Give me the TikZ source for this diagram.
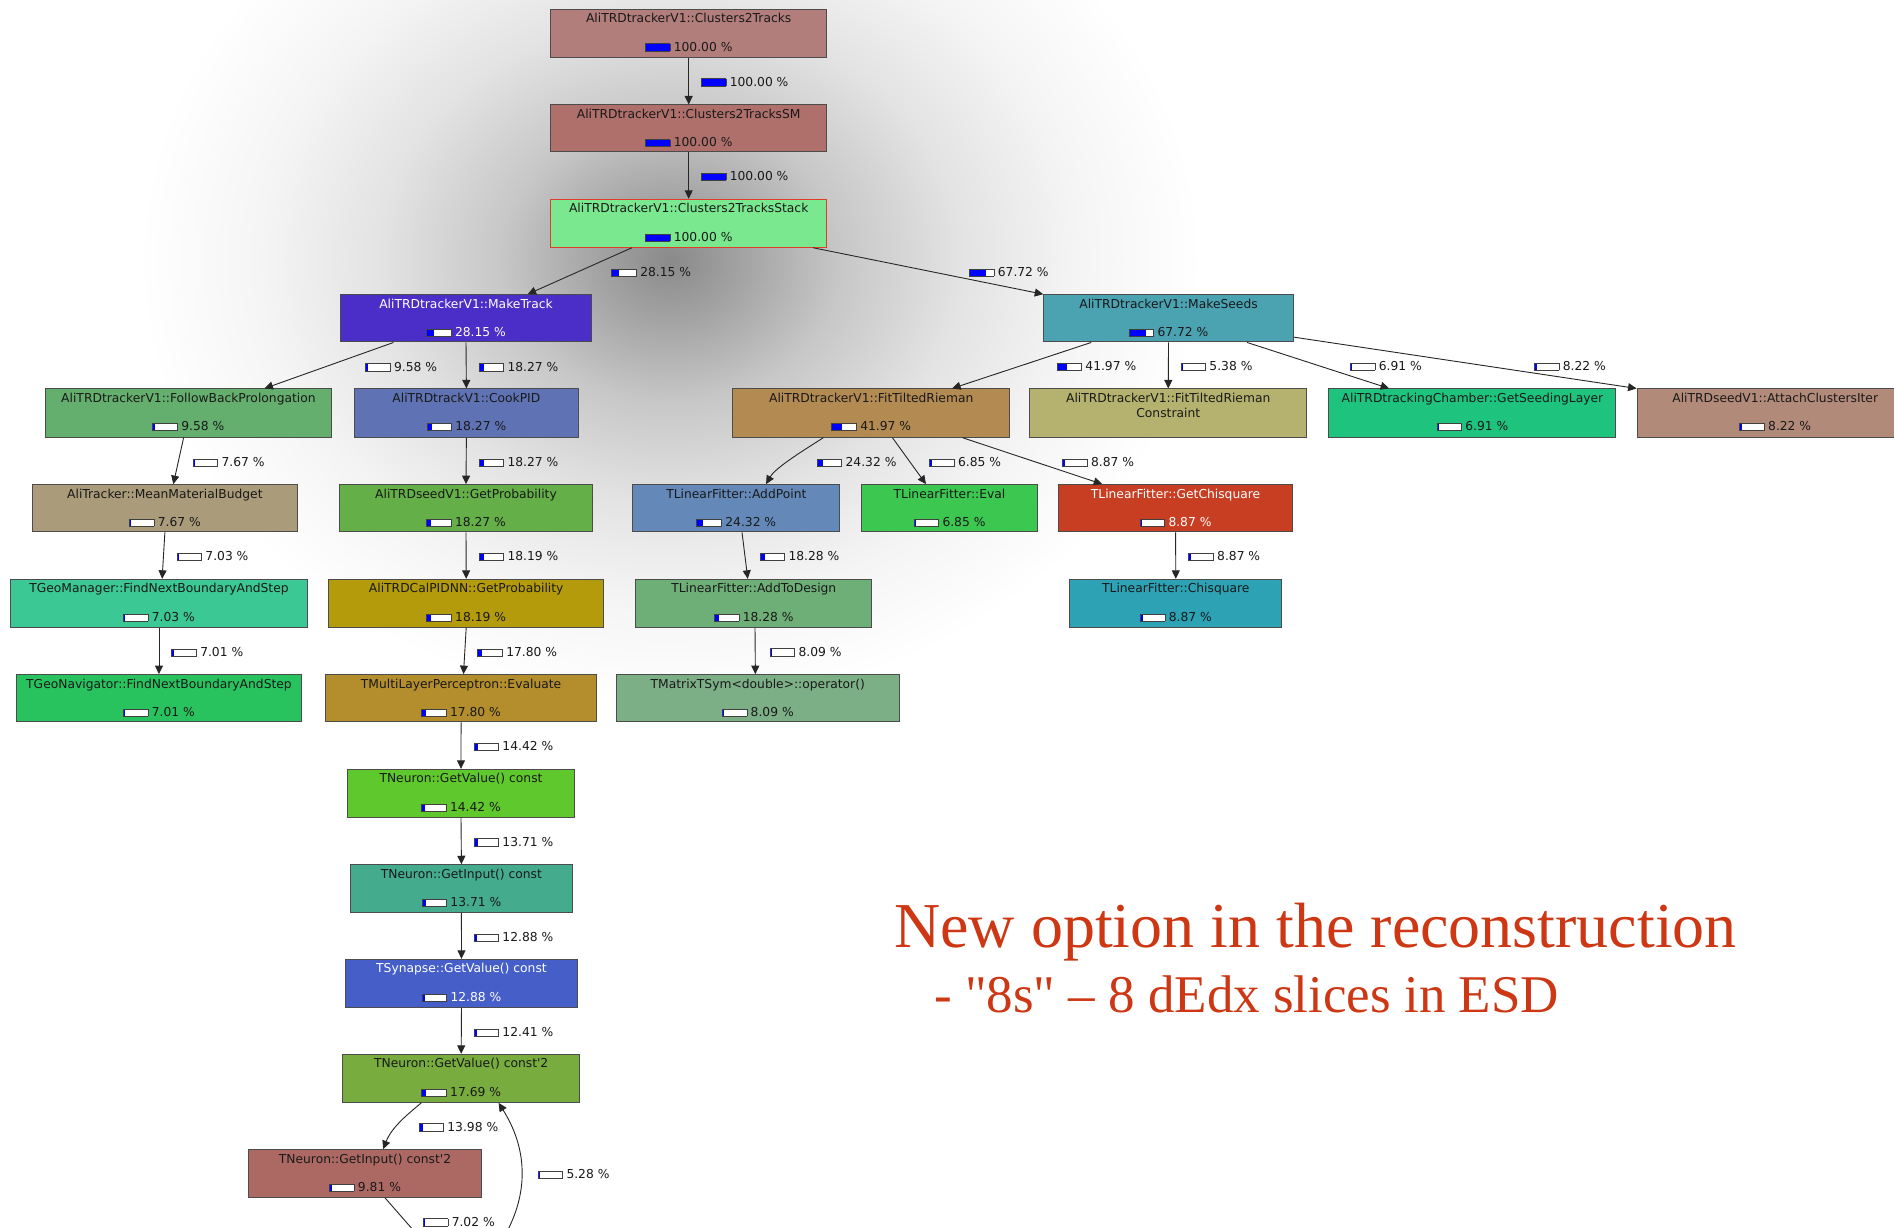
\documentclass[tikz,border=0pt]{standalone}
\usepackage{fontspec}
\setmainfont{DejaVu Sans}[Ligatures=TeXOff]
\newfontfamily\timesfont{Liberation Serif}
\usetikzlibrary{arrows.meta,calc}
\newdimen\barunit \barunit=0.24pt
\newcommand\pbar[1]{\raisebox{0.5pt}{\setlength\fboxsep{0pt}\setlength\fboxrule{0.7pt}\fcolorbox{black!75}{white}{\makebox[24pt][l]{\textcolor{blue}{\rule{#1\barunit}{6.5pt}}}}}}
\newcommand\pct[1]{\pbar{#1}\hspace{3.5pt}#1 \%}
\definecolor{dk}{RGB}{25,25,25}
\definecolor{cA}{RGB}{178,126,123}
\definecolor{cB}{RGB}{175,112,108}
\definecolor{cC}{RGB}{122,232,142}
\definecolor{cRedB}{RGB}{225,60,40}
\definecolor{cD}{RGB}{75,45,200}
\definecolor{cE}{RGB}{75,163,178}
\definecolor{cF}{RGB}{100,175,110}
\definecolor{cG}{RGB}{95,115,180}
\definecolor{cH}{RGB}{178,138,82}
\definecolor{cI}{RGB}{180,178,110}
\definecolor{cJ}{RGB}{30,195,125}
\definecolor{cK}{RGB}{178,138,122}
\definecolor{cL}{RGB}{170,155,122}
\definecolor{cM}{RGB}{100,175,72}
\definecolor{cN}{RGB}{100,137,185}
\definecolor{cO}{RGB}{60,200,80}
\definecolor{cP}{RGB}{200,62,35}
\definecolor{cQ}{RGB}{60,200,148}
\definecolor{cR}{RGB}{180,155,12}
\definecolor{cS}{RGB}{110,175,120}
\definecolor{cT}{RGB}{45,162,180}
\definecolor{cU}{RGB}{40,195,95}
\definecolor{cV}{RGB}{180,142,45}
\definecolor{cW}{RGB}{125,175,135}
\definecolor{cX}{RGB}{95,200,45}
\definecolor{cY}{RGB}{68,172,140}
\definecolor{cZ}{RGB}{70,95,200}
\definecolor{cAA}{RGB}{120,172,62}
\definecolor{cAB}{RGB}{172,105,100}
\definecolor{bigred}{RGB}{205,55,20}
\pgfdeclareradialshading{bgshade}{\pgfpoint{0bp}{0bp}}{color(0bp)=(black!46); color(3bp)=(black!36); color(7bp)=(black!22); color(12bp)=(black!11); color(17bp)=(black!4); color(22bp)=(white); color(50bp)=(white)}
\newcommand\fn[9]{%
  \node[fbox, #6, minimum width={(#3-#2)*1.2079pt}, minimum height={(#5-#4)*1.2079pt}] (#1) at ({(#2+#3)/2},{(#4+#5)/2}) {};
  \node[ftxt, text=#9] (#1-t) at ($(#1.north)+(0,11.6)$) {#7};
  \node[ftxt, text=#9] (#1-p) at ($(#1.north)+(0,35.1)$) {\pct{#8}};
}
\newcommand\el[4]{\node[elab] (#1) at (#2,{#3+3.7}) {\pct{#4}};}
\begin{document}
\begin{tikzpicture}[x=1.2079pt,y=-1.2079pt,
  fbox/.style={draw=black!70, line width=1pt, rectangle, inner sep=0pt},
  ftxt/.style={anchor=base, inner sep=0pt, font=\fontsize{12.3pt}{14pt}\selectfont},
  elab/.style={anchor=base west, inner sep=0pt, text=dk, font=\fontsize{12.3pt}{14pt}\selectfont},
  conn/.style={draw=black!85, line width=0.9pt, -{Triangle[length=8.5pt,width=8pt]}},
  plain/.style={draw=black!85, line width=0.9pt}]
\useasboundingbox (0,0) rectangle (1568,1016);
\clip (0,0) rectangle (1568,1016);
\fill[white] (0,0) rectangle (1568,1016);
\shade[shading=bgshade] (555,215) ellipse (500 and 420);

% nodes
\fn{c2t}{455.9}{684.4}{7.7}{47.4}{fill=cA}{AliTRDtrackerV1::Clusters2Tracks}{100.00}{dk}
\fn{c2tsm}{455.9}{684.4}{86.9}{125.6}{fill=cB}{AliTRDtrackerV1::Clusters2TracksSM}{100.00}{dk}
\fn{stack}{455.9}{684.4}{165}{204.7}{fill=cC, draw=cRedB}{AliTRDtrackerV1::Clusters2TracksStack}{100.00}{dk}
\fn{mt}{282.2}{489.4}{244}{283.1}{fill=cD}{AliTRDtrackerV1::MakeTrack}{28.15}{white}
\fn{ms}{864.1}{1070.7}{244}{283.1}{fill=cE}{AliTRDtrackerV1::MakeSeeds}{67.72}{dk}
\fn{fb}{37.7}{274.3}{322}{362}{fill=cF}{AliTRDtrackerV1::FollowBackProlongation}{9.58}{dk}
\fn{cp}{293.3}{478.9}{322}{362}{fill=cG}{AliTRDtrackV1::CookPID}{18.27}{dk}
\fn{ft}{606.5}{836}{322}{362}{fill=cH}{AliTRDtrackerV1::FitTiltedRieman}{41.97}{dk}
\node[fbox, fill=cI, minimum width={229.7*1.2079pt}, minimum height={40*1.2079pt}] (con) at (967.15,342) {};
\node[ftxt, text=dk] (con-t) at ($(con.north)+(0,11.6)$) {AliTRDtrackerV1::FitTiltedRieman};
\node[ftxt, text=dk] (con-u) at ($(con.north)+(0,24.4)$) {Constraint};
\fn{gsl}{1100.2}{1337.8}{322}{362}{fill=cJ}{AliTRDtrackingChamber::GetSeedingLayer}{6.91}{dk}
\fn{aci}{1355.3}{1584}{322}{362}{fill=cK}{AliTRDseedV1::AttachClustersIter}{8.22}{dk}
\fn{mmb}{26.8}{246.2}{401.2}{440.4}{fill=cL}{AliTracker::MeanMaterialBudget}{7.67}{dk}
\fn{gp}{280.9}{490.7}{401.2}{440.4}{fill=cM}{AliTRDseedV1::GetProbability}{18.27}{dk}
\fn{ap}{524}{695.2}{401.2}{440.4}{fill=cN}{TLinearFitter::AddPoint}{24.32}{dk}
\fn{ev}{713.3}{858.9}{401.2}{440.4}{fill=cO}{TLinearFitter::Eval}{6.85}{dk}
\fn{gc}{876.7}{1069.7}{401.2}{440.4}{fill=cP}{TLinearFitter::GetChisquare}{8.87}{white}
\fn{gm}{8.5}{254.7}{479.6}{519.4}{fill=cQ}{TGeoManager::FindNextBoundaryAndStep}{7.03}{dk}
\fn{pn}{272}{499.9}{479.6}{519.4}{fill=cR}{AliTRDCalPIDNN::GetProbability}{18.19}{dk}
\fn{ad}{526.3}{721.8}{479.6}{519.4}{fill=cS}{TLinearFitter::AddToDesign}{18.28}{dk}
\fn{cs}{885.8}{1061.1}{479.6}{519.4}{fill=cT}{TLinearFitter::Chisquare}{8.87}{dk}
\fn{gn}{13.4}{249.8}{558.5}{597.7}{fill=cU}{TGeoNavigator::FindNextBoundaryAndStep}{7.01}{dk}
\fn{ml}{269.4}{494}{558.5}{597.7}{fill=cV}{TMultiLayerPerceptron::Evaluate}{17.80}{dk}
\fn{mx}{510.4}{744.3}{558.5}{597.7}{fill=cW}{TMatrixTSym<double>::operator()}{8.09}{dk}
\fn{gv}{287.5}{475.8}{636.9}{676.6}{fill=cX}{TNeuron::GetValue() const}{14.42}{dk}
\fn{gi}{290}{474}{715.9}{755.3}{fill=cY}{TNeuron::GetInput() const}{13.71}{dk}
\fn{sy}{285.9}{478.2}{794.2}{834}{fill=cZ}{TSynapse::GetValue() const}{12.88}{white}
\fn{gvb}{283.7}{479.9}{872.9}{912.6}{fill=cAA}{TNeuron::GetValue() const'2}{17.69}{dk}
\fn{gib}{205.6}{398.8}{951.8}{991.2}{fill=cAB}{TNeuron::GetInput() const'2}{9.81}{dk}
\coordinate (bot1) at (419.5,1020);
\coordinate (bot2) at (343.5,1020);

% connectors
\draw[conn] (c2t.south) -- (c2tsm.north);
\draw[conn] (c2tsm.south) -- (stack.north);
\draw[conn] ($(stack.south)+(-47,0)$) -- ($(mt.north)+(51,0)$);
\draw[conn] ($(stack.south)+(103,0)$) -- (ms.north west);
\draw[conn] ($(mt.south)+(-60,0)$) -- ($(fb.north)+(63,0)$);
\draw[conn] (mt.south) -- (cp.north);
\draw[conn] ($(fb.south)+(-4,0)$) -- ($(mmb.north)+(7,0)$);
\draw[conn] (mmb.south) -- ($(gm.north)+(2.6,0)$);
\draw[conn] (gm.south) -- (gn.north);
\draw[conn] (cp.south) -- (gp.north);
\draw[conn] (gp.south) -- (pn.north);
\draw[conn] (pn.south) -- ($(ml.north)+(2,0)$);
\draw[conn] (ml.south) -- (gv.north);
\draw[conn] (gv.south) -- (gi.north);
\draw[conn] (gi.south) -- (sy.north);
\draw[conn] (sy.south) -- (gvb.north);
\draw[conn] ($(gvb.south)+(-33,0)$) .. controls ($(gvb.south)+(-45,10)$) and ($(gib.north)+(22,-18)$) .. ($(gib.north)+(15,0)$);
\draw[conn] (bot1) .. controls (438,985) and (436,950) .. ($(gvb.south)+(31,0)$);
\draw[plain] ($(gib.south)+(16.5,0)$) -- (bot2);
\draw[conn] ($(ms.south)+(-64,0)$) -- ($(ft.north)+(67,0)$);
\draw[conn] (ms.south) -- (con.north);
\draw[conn] ($(ms.south)+(65,0)$) -- ($(gsl.north)+(-69,0)$);
\draw[conn] ($(ms.south east)+(0,-4.4)$) -- (aci.north west);
\draw[conn] ($(ft.south)+(-39.7,0)$) .. controls ($(ft.south)+(-53.7,9)$) and ($(ap.north)+(32.6,-14)$) .. ($(ap.north)+(24.6,0)$);
\draw[conn] ($(ft.south)+(17.6,0)$) -- ($(ev.north)+(-19.5,0)$);
\draw[conn] ($(ft.south)+(75.7,0)$) -- ($(gc.north)+(-60.7,0)$);
\draw[conn] ($(ap.south)+(4.7,0)$) -- ($(ad.north)+(-5,0)$);
\draw[conn] ($(ad.south)+(1,0)$) -- ($(mx.north)+(-2,0)$);
\draw[conn] (gc.south) -- (cs.north);

% connector labels
\el{l1}{580.1}{67.6}{100.00}
\el{l2}{580.1}{145.7}{100.00}
\el{l3}{506}{225}{28.15}
\el{l4}{802}{225}{67.72}
\el{l5}{302.2}{303.6}{9.58}
\el{l6}{396.1}{303.6}{18.27}
\el{l7}{874.5}{303}{41.97}
\el{l8}{977.2}{303}{5.38}
\el{l9}{1117.4}{303}{6.91}
\el{l10}{1269.7}{303}{8.22}
\el{l11}{159.4}{382.5}{7.67}
\el{l12}{396.1}{382.5}{18.27}
\el{l13}{676}{382.5}{24.32}
\el{l14}{769.1}{382.5}{6.85}
\el{l15}{879.2}{382.5}{8.87}
\el{l16}{146}{460.6}{7.03}
\el{l17}{396.1}{460.6}{18.19}
\el{l18}{628.7}{460.6}{18.28}
\el{l19}{983.6}{460.6}{8.87}
\el{l20}{141.7}{539.8}{7.01}
\el{l21}{395.1}{539.8}{17.80}
\el{l22}{637.1}{539.5}{8.09}
\el{l23}{391.9}{617.6}{14.42}
\el{l24}{391.9}{696.8}{13.71}
\el{l25}{391.9}{775.5}{12.88}
\el{l26}{391.9}{854.4}{12.41}
\el{l27}{346.3}{932.7}{13.98}
\el{l28}{444.9}{972.2}{5.28}
\el{l29}{349.9}{1011.4}{7.02}

% big text
\node[anchor=base west, inner sep=0pt, text=bigred, font=\timesfont\fontsize{64pt}{70pt}\selectfont] (big1) at (740.2,784.3) {New option in the reconstruction};
\node[anchor=base west, inner sep=0pt, text=bigred, font=\timesfont\fontsize{53pt}{60pt}\selectfont] (big2) at (773.2,838.4) {- "8s" \textendash{} 8 dEdx slices in ESD};
\end{tikzpicture}
\end{document}
